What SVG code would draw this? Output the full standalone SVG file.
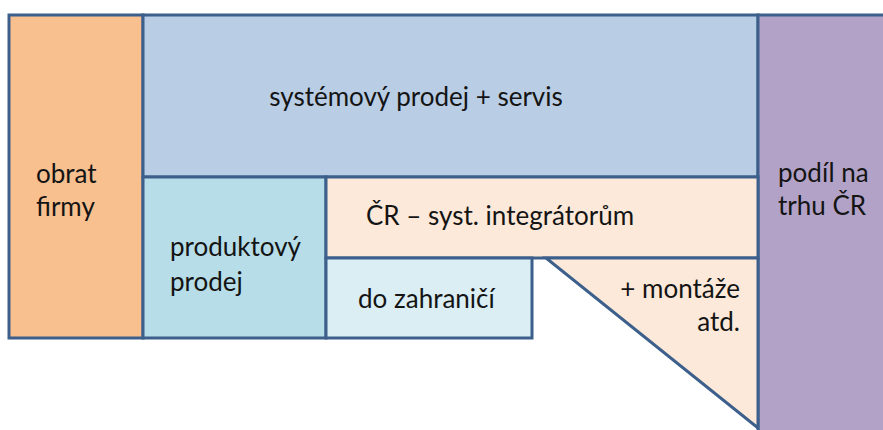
<svg xmlns="http://www.w3.org/2000/svg" width="883" height="430" viewBox="0 0 883 430">
<style>
.b{stroke:#3c5f8b;stroke-width:3;stroke-linejoin:miter}
text{font-family:Lato,"Open Sans","Noto Sans",sans-serif;font-size:26px;fill:#141414}
</style>
<rect width="883" height="430" fill="#ffffff"/>
<g id="obrat"><rect class="b" x="9" y="15" width="134" height="323" fill="#f9c08f"/><text x="36" y="183">obrat</text><text x="36" y="216">firmy</text></g>
<g id="system"><rect class="b" x="143" y="15" width="615" height="162" fill="#b9cde5"/><text x="416" y="106" text-anchor="middle">systémový prodej + servis</text></g>
<g id="podil"><rect class="b" x="758" y="15" width="130" height="420" fill="#b3a2c7"/><text x="778" y="182">podíl na</text><text x="778" y="215">trhu ČR</text></g>
<g id="produkt"><rect class="b" x="143" y="177" width="183" height="161" fill="#b7dde8"/><text x="170" y="256">produktový</text><text x="170" y="291">prodej</text></g>
<g id="cr"><rect class="b" x="326" y="177" width="432" height="81" fill="#fde9d9"/><text x="366" y="225">ČR – syst. integrátorům</text></g>
<g id="zahranici"><rect class="b" x="326" y="258" width="206" height="80" fill="#dbeef4"/><text x="358" y="308">do zahraničí</text></g>
<g id="montaze"><polygon class="b" points="546,258 758,258 758,428" fill="#fde9d9"/><text x="740" y="298" text-anchor="end">+ montáže</text><text x="740" y="331" text-anchor="end">atd.</text></g>
<g id="connectors"></g>
</svg>
